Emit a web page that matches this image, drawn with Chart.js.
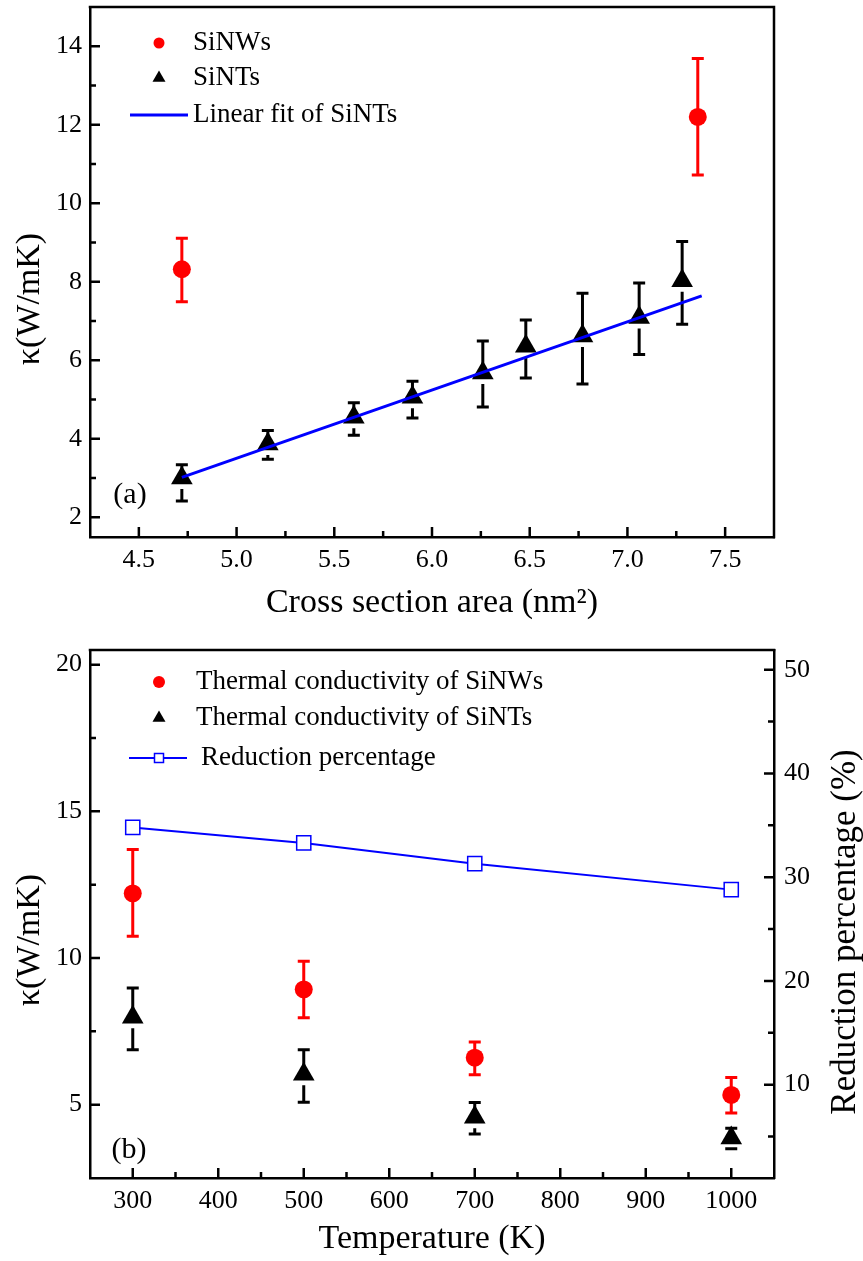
<!DOCTYPE html>
<html>
<head>
<meta charset="utf-8">
<script src="https://cdn.jsdelivr.net/npm/chart.js"></script>
<style>
  body { margin: 0; background: #fff; }
  canvas { display: block; }
</style>
</head>
<body>
<canvas id="areaChart" width="863" height="625"></canvas>
<canvas id="tempChart" width="863" height="636"></canvas>
<script>
// (a) kappa vs cross section area
const areaNW = [4.72, 7.36];
const kappaNW = [8.32, 12.2];
const kappaNWLo = [7.49, 10.72];
const kappaNWHi = [9.11, 13.69];

const areaNT = [4.72, 5.16, 5.6, 5.9, 6.26, 6.48, 6.77, 7.06, 7.28];
const kappaNT = [3.0, 3.87, 4.55, 5.06, 5.68, 6.36, 6.62, 7.09, 8.03];
const kappaNTLo = [2.42, 3.48, 4.09, 4.53, 4.81, 5.55, 5.40, 6.15, 6.92];
const kappaNTHi = [3.34, 4.21, 4.92, 5.47, 6.49, 7.03, 7.71, 7.97, 9.03];

const fitX = [4.72, 7.38];
const fitY = [3.02, 7.64];

const areaTicks = [4.5, 5.0, 5.5, 6.0, 6.5, 7.0, 7.5];
const areaMinor = [4.75, 5.25, 5.75, 6.25, 6.75, 7.25];
const kappaTicksA = [2, 4, 6, 8, 10, 12, 14];
const kappaMinorA = [3, 5, 7, 9, 11, 13];

// (b) kappa and reduction vs temperature
const temps = [300, 500, 700, 1000];
const kappaNWT = [12.2, 8.93, 6.6, 5.33];
const kappaNWTLo = [10.74, 7.96, 6.02, 4.72];
const kappaNWTHi = [13.7, 9.89, 7.14, 5.93];
const kappaNTT = [7.98, 6.04, 4.57, 3.86];
const kappaNTTLo = [6.87, 5.08, 4.0, 3.5];
const kappaNTTHi = [8.98, 6.87, 5.07, 4.2];
const reduction = [34.8, 33.3, 31.3, 28.8];

const tempTicks = [300, 400, 500, 600, 700, 800, 900, 1000];
const tempMinor = [350, 450, 550, 650, 750, 850, 950];
const kappaTicksB = [5, 10, 15, 20];
const kappaMinorB = [7.5, 12.5, 17.5];
const redTicks = [10, 20, 30, 40, 50];
const redMinor = [5, 15, 25, 35, 45];

const SERIF = '"Liberation Serif", "DejaVu Serif", serif';
const RED = '#ff0000';
const BLUE = '#0000ff';

Chart.defaults.font.family = SERIF;
Chart.defaults.color = '#000';

function pts(xs, ys) {
  return xs.map((x, i) => ({ x: x, y: ys[i] }));
}

// error bars, drawn under the markers
const errorBars = {
  id: 'errorBars',
  beforeDatasetsDraw(chart) {
    const ctx = chart.ctx;
    chart.data.datasets.forEach((ds, i) => {
      if (!ds.errLo) return;
      const meta = chart.getDatasetMeta(i);
      const xs = chart.scales[meta.xAxisID];
      const ys = chart.scales[meta.yAxisID];
      ctx.save();
      ctx.strokeStyle = ds.errColor;
      ctx.lineWidth = 3;
      ds.data.forEach((p, j) => {
        const x = xs.getPixelForValue(p.x);
        const y = ys.getPixelForValue(p.y);
        const yLo = ys.getPixelForValue(ds.errLo[j]);
        const yHi = ys.getPixelForValue(ds.errHi[j]);
        const gap = ds.errGap || 0;
        ctx.beginPath();
        ctx.moveTo(x, yHi);
        ctx.lineTo(x, y);
        if (y + gap < yLo) {
          ctx.moveTo(x, y + gap);
          ctx.lineTo(x, yLo);
        }
        ctx.moveTo(x - 6, yHi);
        ctx.lineTo(x + 6, yHi);
        ctx.moveTo(x - 6, yLo);
        ctx.lineTo(x + 6, yLo);
        ctx.stroke();
      });
      ctx.restore();
    });
  }
};

function drawMarker(ctx, kind, x, y, r, color) {
  ctx.fillStyle = color;
  ctx.beginPath();
  if (kind === 'circle') {
    ctx.arc(x, y, r, 0, Math.PI * 2);
  } else {
    const hw = r * Math.sin(Math.PI / 3);
    ctx.moveTo(x, y - r);
    ctx.lineTo(x + hw, y + r / 2);
    ctx.lineTo(x - hw, y + r / 2);
    ctx.closePath();
  }
  ctx.fill();
}

// inward ticks, closed box, rotated y titles, panel tag and legend
function makeFrame(cfg) {
  return {
    id: 'frame',
    afterDraw(chart) {
      const ctx = chart.ctx;
      const a = chart.chartArea;
      ctx.save();
      ctx.strokeStyle = '#000';
      ctx.lineWidth = 2.5;
      ctx.lineCap = 'square';
      ctx.beginPath();
      ctx.moveTo(a.left, a.top);
      ctx.lineTo(a.right, a.top);
      if (cfg.boxRight) {
        ctx.lineTo(a.right, a.bottom);
      }
      ctx.stroke();

      ctx.lineCap = 'butt';
      Object.keys(cfg.minor).forEach(id => {
        const s = chart.scales[id];
        const marks = s.ticks.map(t => [t.value, 10]).concat(cfg.minor[id].map(v => [v, 6]));
        ctx.beginPath();
        marks.forEach(([v, len]) => {
          const p = s.getPixelForValue(v);
          if (s.isHorizontal()) {
            ctx.moveTo(p, a.bottom);
            ctx.lineTo(p, a.bottom - len);
          } else if (s.position === 'left') {
            ctx.moveTo(a.left, p);
            ctx.lineTo(a.left + len, p);
          } else {
            ctx.moveTo(a.right, p);
            ctx.lineTo(a.right - len, p);
          }
        });
        ctx.stroke();
      });

      ctx.fillStyle = '#000';
      ctx.textBaseline = 'middle';
      ctx.textAlign = 'center';
      cfg.titles.forEach(t => {
        ctx.save();
        ctx.font = t.size + 'px ' + SERIF;
        ctx.translate(t.x, (a.top + a.bottom) / 2 + t.dy);
        ctx.rotate(-Math.PI / 2);
        ctx.fillText(t.text, 0, 0);
        ctx.restore();
      });

      ctx.font = '30px ' + SERIF;
      ctx.fillText(cfg.tag.text, a.left + cfg.tag.dx, a.bottom + cfg.tag.dy);

      ctx.font = '27px ' + SERIF;
      ctx.textAlign = 'left';
      cfg.legend.forEach(item => {
        const ds = chart.data.datasets[item.ds];
        const mx = a.left + item.mx;
        const my = a.top + item.my;
        if (item.kind === 'line' || item.kind === 'lineRect') {
          ctx.strokeStyle = ds.borderColor;
          ctx.lineWidth = ds.borderWidth;
          ctx.beginPath();
          ctx.moveTo(a.left + item.x1, my);
          ctx.lineTo(a.left + item.x2, my);
          ctx.stroke();
          if (item.kind === 'lineRect') {
            ctx.fillStyle = '#fff';
            ctx.lineWidth = 1.5;
            ctx.fillRect(mx - 4.5, my - 4.5, 9, 9);
            ctx.strokeRect(mx - 4.5, my - 4.5, 9, 9);
          }
        } else {
          drawMarker(ctx, item.kind, mx, my, item.r, ds.backgroundColor);
        }
        ctx.fillStyle = '#000';
        ctx.fillText(ds.label, a.left + item.tx, my);
      });
      ctx.restore();
    }
  };
}

function noPad(s) {
  s.paddingTop = 0;
  s.paddingBottom = 0;
  s.paddingLeft = 0;
  s.paddingRight = 0;
}

function axisX(min, max, ticks, height, title, fmt) {
  return {
    type: 'linear', min: min, max: max,
    afterBuildTicks: s => { s.ticks = ticks.map(v => ({ value: v })); },
    afterFit: s => { s.height = height; noPad(s); },
    grid: { display: false, drawTicks: false },
    border: { display: true, color: '#000', width: 2.5 },
    ticks: { padding: 8, autoSkip: false, maxRotation: 0, color: '#000', font: { size: 26 }, callback: fmt },
    title: { display: true, text: title, color: '#000', font: { size: 34 }, padding: { top: 0, bottom: 2 } }
  };
}

function axisY(pos, min, max, ticks, width, pad) {
  return {
    type: 'linear', position: pos, min: min, max: max,
    afterBuildTicks: s => { s.ticks = ticks.map(v => ({ value: v })); },
    afterFit: s => { s.width = width; noPad(s); },
    grid: { display: false, drawTicks: false },
    border: { display: true, color: '#000', width: 2.5 },
    ticks: { padding: pad, autoSkip: false, color: '#000', font: { size: 26 } }
  };
}

// panel (a)
new Chart(document.getElementById('areaChart'), {
  type: 'scatter',
  data: {
    datasets: [
      {
        label: 'Linear fit of SiNTs', data: pts(fitX, fitY), showLine: true,
        borderColor: BLUE, borderWidth: 3, pointRadius: 0, order: 0
      },
      {
        label: 'SiNTs', data: pts(areaNT, kappaNT), pointStyle: 'triangle', pointRadius: 12.5,
        backgroundColor: '#000', borderColor: '#000', borderWidth: 0, order: 1,
        errLo: kappaNTLo, errHi: kappaNTHi, errColor: '#000', errGap: 11
      },
      {
        label: 'SiNWs', data: pts(areaNW, kappaNW), pointStyle: 'circle', pointRadius: 9,
        backgroundColor: RED, borderColor: RED, borderWidth: 0, order: 2,
        errLo: kappaNWLo, errHi: kappaNWHi, errColor: RED
      }
    ]
  },
  options: {
    responsive: false, animation: false, devicePixelRatio: 1,
    layout: { autoPadding: false, padding: { top: 7, right: 89, left: 0, bottom: 0 } },
    plugins: { legend: { display: false }, tooltip: { enabled: false } },
    scales: {
      x: axisX(4.25, 7.75, areaTicks, 88, 'Cross section area (nm²)', v => v.toFixed(1)),
      y: axisY('left', 1.5, 15, kappaTicksA, 90, 8)
    }
  },
  plugins: [errorBars, makeFrame({
    boxRight: true,
    minor: { x: areaMinor, y: kappaMinorA },
    titles: [{ text: 'κ(W/mK)', x: 30, dy: 27, size: 34 }],
    tag: { text: '(a)', dx: 40, dy: -42 },
    legend: [
      { ds: 2, kind: 'circle', r: 5.5, mx: 69, my: 36, tx: 103 },
      { ds: 1, kind: 'triangle', r: 7.5, mx: 69, my: 71, tx: 103 },
      { ds: 0, kind: 'line', x1: 40, x2: 98, mx: 69, my: 108, tx: 103 }
    ]
  })]
});

// panel (b)
new Chart(document.getElementById('tempChart'), {
  type: 'scatter',
  data: {
    datasets: [
      {
        label: 'Reduction percentage', data: pts(temps, reduction), yAxisID: 'y2', showLine: true,
        borderColor: BLUE, borderWidth: 2, pointStyle: 'rect', pointRadius: 10,
        pointBackgroundColor: '#fff', pointBorderColor: BLUE, pointBorderWidth: 1.5, order: 0
      },
      {
        label: 'Thermal conductivity of SiNTs', data: pts(temps, kappaNTT), yAxisID: 'y',
        pointStyle: 'triangle', pointRadius: 12.5, backgroundColor: '#000', borderColor: '#000',
        borderWidth: 0, order: 1,
        errLo: kappaNTTLo, errHi: kappaNTTHi, errColor: '#000', errGap: 11
      },
      {
        label: 'Thermal conductivity of SiNWs', data: pts(temps, kappaNWT), yAxisID: 'y',
        pointStyle: 'circle', pointRadius: 9, backgroundColor: RED, borderColor: RED,
        borderWidth: 0, order: 2,
        errLo: kappaNWTLo, errHi: kappaNWTHi, errColor: RED
      }
    ]
  },
  options: {
    responsive: false, animation: false, devicePixelRatio: 1,
    layout: { autoPadding: false, padding: { top: 25, right: 0, left: 0, bottom: 0 } },
    plugins: { legend: { display: false }, tooltip: { enabled: false } },
    scales: {
      x: axisX(250, 1050, tempTicks, 83, 'Temperature (K)', v => String(v)),
      y: axisY('left', 2.5, 20.5, kappaTicksB, 90, 8),
      y2: axisY('right', 1, 51.9, redTicks, 89, 10)
    }
  },
  plugins: [errorBars, makeFrame({
    boxRight: false,
    minor: { x: tempMinor, y: kappaMinorB, y2: redMinor },
    titles: [
      { text: 'κ(W/mK)', x: 30, dy: 26, size: 34 },
      { text: 'Reduction percentage (%)', x: 846, dy: 18, size: 35 }
    ],
    tag: { text: '(b)', dx: 39, dy: -28 },
    legend: [
      { ds: 2, kind: 'circle', r: 6, mx: 69, my: 32, tx: 106 },
      { ds: 1, kind: 'triangle', r: 7.5, mx: 69, my: 68, tx: 106 },
      { ds: 0, kind: 'lineRect', x1: 39, x2: 97, mx: 69, my: 108, tx: 111 }
    ]
  })]
});
</script>
</body>
</html>
